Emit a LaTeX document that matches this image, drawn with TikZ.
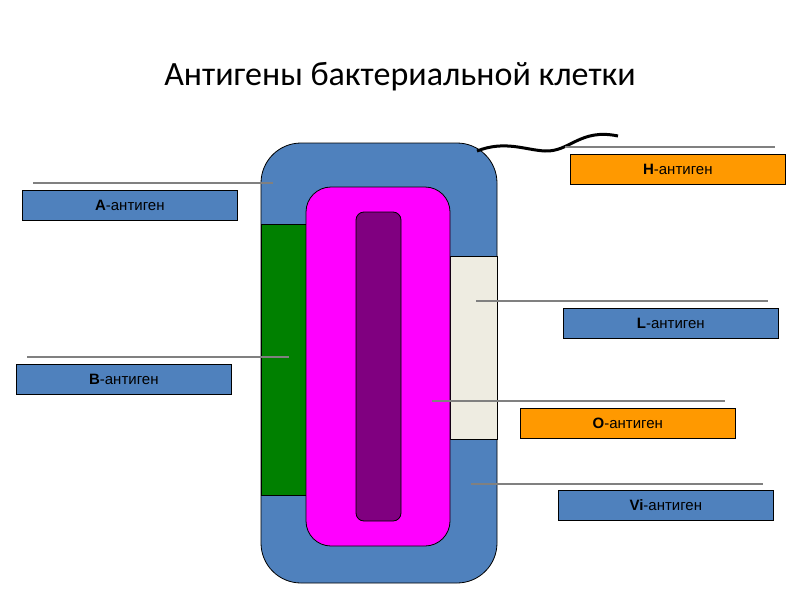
\documentclass[tikz,border=0pt]{standalone}
\usepackage{fontspec}
\setmainfont{Liberation Sans}
\newfontfamily\titlefont{Carlito}
\definecolor{cblue}{HTML}{4F81BD}
\definecolor{cgreen}{HTML}{008000}
\definecolor{cbeige}{HTML}{EEECE1}
\definecolor{cmag}{HTML}{FF00FF}
\definecolor{cpur}{HTML}{800080}
\definecolor{corange}{HTML}{FF9900}
\begin{document}
\begin{tikzpicture}[x=1pt,y=-1pt,
  part/.style={draw=black,line width=0.8pt},
  lbl/.style={draw=black,line width=0.6pt,minimum width=215pt,minimum height=30pt,inner sep=0pt,font=\fontsize{15}{18}\selectfont,anchor=north west},
  lead/.style={draw=gray,line width=1.5pt}]
\useasboundingbox (0,0) rectangle (800,600);
\node (title) at (400,77) {\titlefont\fontsize{34}{40}\selectfont Антигены бактериальной клетки};
\draw[part,fill=cblue,rounded corners=40pt] (261,143) rectangle (497,583);
\draw[part,fill=cgreen] (261,224) rectangle (307,495);
\draw[part,fill=cbeige] (450,256) rectangle (497,439);
\draw[part,fill=cmag,rounded corners=25pt] (306,187) rectangle (450,546);
\draw[part,fill=cpur,rounded corners=8pt] (356,212) rectangle (401,521);
\draw[line width=3pt] (477,151) .. controls (505,140) and (525,150) .. (545,151) .. controls (570,152) and (580,128) .. (618,136);
\node[lbl,fill=cblue] (A) at (22,190) {\textbf{A}-антиген};
\node[lbl,fill=cblue] (B) at (16,364) {\textbf{B}-антиген};
\node[lbl,fill=corange] (H) at (570,154) {\textbf{H}-антиген};
\node[lbl,fill=cblue] (L) at (563,308) {\textbf{L}-антиген};
\node[lbl,fill=corange] (O) at (520,408) {\textbf{O}-антиген};
\node[lbl,fill=cblue] (V) at (558,490) {\textbf{Vi}-антиген};
\coordinate (a1) at (33,183); \coordinate (a2) at (273,183);
\coordinate (b1) at (27,357); \coordinate (b2) at (289,357);
\coordinate (h1) at (565,147); \coordinate (h2) at (775,147);
\coordinate (l1) at (476,301); \coordinate (l2) at (768,301);
\coordinate (o1) at (432,401); \coordinate (o2) at (725,401);
\coordinate (v1) at (471,484); \coordinate (v2) at (763,484);
\draw[lead] (a1)--(a2); \draw[lead] (b1)--(b2); \draw[lead] (h1)--(h2);
\draw[lead] (l1)--(l2); \draw[lead] (o1)--(o2); \draw[lead] (v1)--(v2);
\end{tikzpicture}
\end{document}
